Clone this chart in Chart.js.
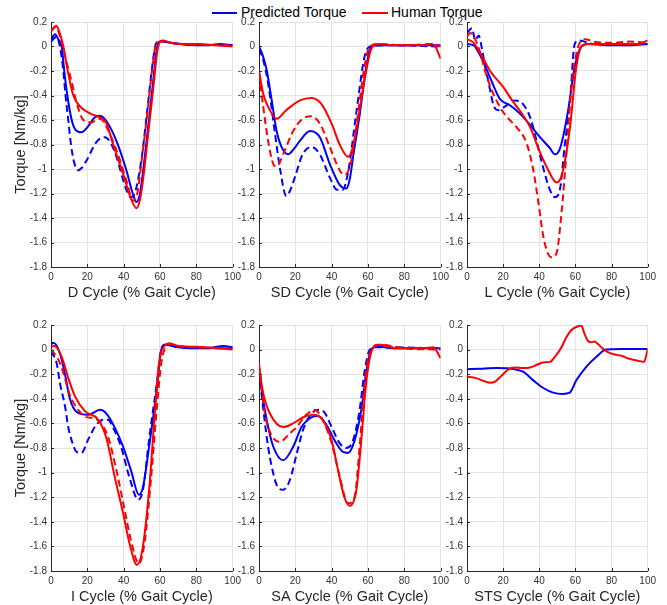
<!DOCTYPE html>
<html lang="en">
<head>
  <meta charset="UTF-8" />
  <title>Torque per cycle</title>
  <script src="https://cdn.jsdelivr.net/npm/chart.js"></script>
  <style>
    body { margin: 0; background: #fff; font-family: "Liberation Sans", Arial, sans-serif; }
    #wrap { position: relative; width: 667px; height: 605px; overflow: hidden; }
    canvas { position: absolute; }
    .leg-line { position: absolute; height: 2px; top: 12px; }
    .leg-text { position: absolute; top: 4px; font-size: 14px; line-height: 16px; color: #000; white-space: nowrap; }
  </style>
</head>
<body>
  <div id="wrap">
    <div class="leg-line" style="left:212px; width:25px; background:#0000ff"></div>
    <div class="leg-text" style="left:241px">Predicted Torque</div>
    <div class="leg-line" style="left:362px; width:26px; background:#ff0000"></div>
    <div class="leg-text" style="left:391px">Human Torque</div>

    <canvas id="cD"></canvas>
    <canvas id="cSD"></canvas>
    <canvas id="cL"></canvas>
    <canvas id="cI"></canvas>
    <canvas id="cSA"></canvas>
    <canvas id="cSTS"></canvas>
  </div>

  <script>
    // axis ticks
    const xTicks = [0, 20, 40, 60, 80, 100];
    const yTicks = [0.2, 0, -0.2, -0.4, -0.6, -0.8, -1, -1.2, -1.4, -1.6, -1.8];
    const yTickLabels = ['0.2', '0', '-0.2', '-0.4', '-0.6', '-0.8', '-1', '-1.2', '-1.4', '-1.6', '-1.8'];

    // [percent gait cycle, torque Nm/kg]
    // D cycle
    const dPredSolid = [[0,0.05],[2.2,0.10],[4,0.06],[5.9,0.0],[7.3,-0.2],[9,-0.4],[11.4,-0.6],[13.5,-0.68],[16.8,-0.70],[20,-0.66],[24,-0.58],[27,-0.565],[31,-0.62],[36,-0.77],[41.5,-1.01],[45,-1.20],[47,-1.27],[49,-1.2],[51,-0.98],[53,-0.72],[56,-0.32],[58.5,0.0],[61,0.045],[66,0.03],[75,0.015],[85,0.01],[93,0.02],[100,0.01]];
    const dPredDash = [[0,0.04],[3.1,0.08],[4.9,0.0],[6.8,-0.2],[8,-0.4],[9.5,-0.6],[11,-0.8],[12.8,-0.95],[15,-1.01],[17,-0.99],[19.6,-0.93],[25,-0.78],[29.6,-0.74],[33,-0.79],[36,-0.90],[41.5,-1.17],[44,-1.23],[46.5,-1.18],[50,-0.90],[53,-0.52],[56,-0.13],[58,0.03],[61,0.04],[70,0.02],[100,0.01]];
    const dHumSolid = [[0,0.13],[3,0.17],[5,0.1],[6.8,0.0],[9.2,-0.2],[12.3,-0.4],[16.8,-0.5],[22,-0.55],[27,-0.58],[30.6,-0.63],[34,-0.79],[39.7,-1.04],[44,-1.24],[47,-1.32],[49,-1.25],[51,-1.05],[53,-0.78],[56,-0.38],[59,0.0],[61.5,0.05],[66,0.03],[75,0.02],[82,0.02],[90,0.01],[100,0.0]];
    const dHumDash = [[0,0.12],[2.5,0.16],[5,0.08],[8.6,-0.13],[11.4,-0.29],[14.1,-0.46],[17.8,-0.60],[22,-0.62],[27,-0.59],[32,-0.70],[38,-0.93],[42,-1.12],[45,-1.26],[47.5,-1.2],[50,-0.92],[53,-0.55],[56,-0.15],[58,0.03],[61,0.04],[70,0.02],[100,0.01]];

    // SD cycle
    const sdPredSolid = [[0,0.0],[2,-0.07],[4.2,-0.19],[7,-0.44],[9.7,-0.69],[12.4,-0.82],[16,-0.88],[19,-0.84],[22.5,-0.77],[28,-0.69],[33.5,-0.74],[39,-0.96],[44.4,-1.13],[48,-1.16],[50,-1.08],[52,-0.88],[55.4,-0.56],[59,-0.17],[61.8,0.0],[66,0.01],[80,0.01],[100,0.01]];
    const sdPredDash = [[0,-0.02],[2.5,-0.12],[5,-0.30],[8.8,-0.71],[11.5,-0.99],[15,-1.22],[17,-1.18],[19.7,-1.07],[24,-0.88],[29,-0.82],[33.5,-0.88],[39,-1.07],[43,-1.17],[46,-1.17],[49,-1.03],[53.5,-0.55],[58,-0.09],[61,0.0],[70,0.01],[100,0.0]];
    const sdHumSolid = [[0,-0.20],[2.4,-0.39],[6,-0.52],[9.7,-0.59],[15,-0.52],[22.5,-0.44],[29,-0.42],[34.4,-0.47],[40,-0.63],[44.4,-0.80],[49,-0.90],[51.7,-0.82],[55.4,-0.52],[59,-0.20],[61.8,-0.02],[66,0.02],[75,0.01],[90,0.01],[95,0.02],[97,0.0],[100,-0.10]];
    const sdHumDash = [[0,-0.22],[2.4,-0.50],[5,-0.77],[7.9,-0.96],[9.7,-0.98],[13.3,-0.88],[18.8,-0.69],[24,-0.59],[29,-0.57],[33.5,-0.63],[39,-0.82],[44.4,-1.01],[47,-1.05],[49,-1.02],[51,-0.92],[54.5,-0.55],[58,-0.17],[61,0.0],[66,0.02],[80,0.01],[95,0.02],[100,0.0]];

    // L cycle
    const lPredSolid = [[0,0.02],[3.7,0.01],[6.5,-0.05],[9.2,-0.13],[13.8,-0.29],[18.3,-0.43],[23.8,-0.48],[29.4,-0.55],[34.9,-0.64],[40.4,-0.74],[45.9,-0.83],[48.6,-0.88],[51,-0.85],[53,-0.75],[56,-0.52],[59.6,-0.17],[63.3,0.0],[67,0.02],[80,0.01],[90,0.01],[100,0.02]];
    const lPredDash = [[0,0.11],[2.7,0.15],[4.6,0.05],[6.4,0.09],[8.3,-0.02],[10,-0.16],[11.9,-0.29],[14.7,-0.48],[17.3,-0.52],[20,-0.50],[22,-0.48],[26.6,-0.44],[31,-0.47],[35,-0.58],[38.5,-0.77],[42,-0.98],[45.9,-1.17],[48.6,-1.23],[51.4,-1.17],[54,-0.82],[57,-0.44],[59.6,0.02],[62,0.05],[65,0.04],[70,0.02],[100,0.02]];
    const lHumSolid = [[0,0.06],[3.7,0.03],[8.3,-0.08],[12.8,-0.2],[20,-0.33],[25,-0.44],[30,-0.54],[35,-0.66],[40,-0.85],[45,-1.01],[49.5,-1.11],[52,-1.07],[54,-0.95],[57,-0.66],[60.5,-0.17],[63.3,0.0],[67,0.02],[80,0.02],[95,0.02],[100,0.05]];
    const lHumDash = [[0,0.08],[1.8,0.11],[4.5,0.06],[7.3,-0.05],[10,-0.2],[13.8,-0.36],[19.3,-0.52],[23,-0.59],[27.5,-0.66],[33,-0.79],[36.7,-1.01],[39.4,-1.26],[42,-1.53],[44.5,-1.68],[46.8,-1.72],[49.5,-1.69],[52.3,-1.36],[55,-0.88],[57.8,-0.33],[60.5,-0.06],[63.3,0.05],[65.5,0.06],[70,0.04],[80,0.03],[90,0.04],[100,0.03]];

    // I cycle
    const iPredSolid = [[0,0.04],[1.3,0.056],[4.9,-0.03],[7.7,-0.2],[10.4,-0.40],[14,-0.505],[20.5,-0.53],[27,-0.49],[30.5,-0.52],[35,-0.63],[39.7,-0.79],[44,-0.98],[48.4,-1.18],[50.6,-1.12],[54,-0.79],[58,-0.35],[60.7,0.0],[62.5,0.04],[70,0.02],[85,0.01],[95,0.03],[100,0.02]];
    const iPredDash = [[0,-0.015],[3.1,-0.11],[4.9,-0.27],[7.7,-0.46],[9.5,-0.63],[11.4,-0.74],[14,-0.83],[16.8,-0.84],[20.5,-0.73],[25,-0.61],[28.7,-0.57],[31.4,-0.57],[34,-0.63],[38.6,-0.79],[43,-1.03],[48,-1.22],[50.6,-1.14],[54,-0.73],[58,-0.30],[60.7,0.0],[63,0.04],[70,0.02],[100,0.01]];
    const iHumSolid = [[0,0.025],[2,0.03],[5.9,-0.06],[9.5,-0.23],[13.2,-0.38],[18.7,-0.5],[26,-0.57],[30.5,-0.72],[35,-1.03],[39.7,-1.33],[43.3,-1.58],[47.3,-1.75],[50.6,-1.60],[54.3,-1.09],[57,-0.54],[59.8,-0.08],[62.5,0.03],[65,0.05],[70,0.03],[85,0.02],[100,0.0]];
    const iHumDash = [[0,0.0],[4,-0.08],[6.8,-0.19],[10.4,-0.37],[15,-0.49],[18.7,-0.545],[24,-0.56],[27,-0.59],[31.4,-0.71],[36,-0.98],[40.5,-1.30],[44,-1.55],[48.4,-1.74],[51.5,-1.57],[55,-1.06],[58,-0.52],[60.7,-0.11],[63.4,0.03],[65,0.05],[70,0.03],[100,0.01]];

    // SA cycle
    const saPredSolid = [[0,-0.14],[1.5,-0.33],[4.2,-0.57],[7.9,-0.79],[13.3,-0.90],[18.8,-0.79],[23.4,-0.63],[29,-0.55],[32.5,-0.54],[37,-0.61],[41.7,-0.74],[46,-0.83],[49,-0.84],[52.6,-0.74],[56.3,-0.49],[59,-0.19],[61.8,0.0],[65,0.025],[75,0.01],[100,0.01]];
    const saPredDash = [[0,-0.17],[2.4,-0.49],[5,-0.79],[7,-0.95],[9.7,-1.10],[13.3,-1.14],[17,-1.06],[20.7,-0.85],[24.3,-0.65],[29,-0.52],[32.5,-0.49],[36,-0.51],[40,-0.63],[44.4,-0.76],[48,-0.80],[51.7,-0.74],[55.4,-0.49],[58,-0.19],[61,0.0],[65,0.02],[100,0.01]];
    const saHumSolid = [[0,-0.14],[2.4,-0.36],[6,-0.52],[13.3,-0.63],[18.8,-0.60],[24.3,-0.55],[29.8,-0.53],[35,-0.57],[40,-0.74],[43.5,-0.98],[47,-1.20],[50,-1.27],[53.6,-1.14],[56.3,-0.74],[59,-0.27],[61.8,-0.02],[65.4,0.04],[67,0.04],[75,0.01],[90,0.01],[96,0.02],[100,-0.07]];
    const saHumDash = [[0,-0.11],[2.4,-0.44],[5,-0.63],[11.5,-0.75],[17,-0.68],[20.7,-0.63],[26,-0.53],[30.7,-0.49],[35,-0.57],[40,-0.76],[44.4,-1.03],[49,-1.25],[52.6,-1.20],[55.4,-0.79],[58,-0.30],[61,-0.03],[67,0.04],[80,0.01],[100,0.0]];

    // STS cycle (solid lines only)
    const stsPred = [[0,-0.16],[7.3,-0.155],[16.5,-0.15],[25.7,-0.157],[31,-0.18],[36.7,-0.25],[42,-0.31],[47.7,-0.35],[53,-0.36],[56.9,-0.35],[60.5,-0.25],[66,-0.14],[71.5,-0.06],[77,0.0],[85,0.005],[100,0.005]];
    const stsHum = [[0,-0.22],[4.6,-0.23],[9.2,-0.255],[12.8,-0.27],[15.6,-0.26],[19.3,-0.21],[22.9,-0.16],[26.6,-0.145],[31,-0.15],[34.9,-0.145],[38.5,-0.125],[42,-0.105],[45.9,-0.10],[48.6,-0.06],[52.3,0.02],[55,0.10],[57.8,0.16],[61.5,0.19],[63.3,0.195],[65,0.13],[67,0.07],[68.8,0.06],[70.6,0.065],[72.5,0.045],[75,0.01],[78,-0.02],[81.7,-0.04],[85.3,-0.05],[89.9,-0.075],[94.5,-0.09],[98,-0.10],[100,0.0]];

    const BLUE = '#0000ff', RED = '#ff0000';
    const FONT = '"Liberation Sans", Arial, sans-serif';

    // MATLAB-style inward ticks on left and bottom axes
    const inwardTicks = {
      id: 'inwardTicks',
      afterDatasetsDraw(chart) {
        const { ctx, chartArea: a, scales: { x, y } } = chart;
        ctx.save();
        ctx.strokeStyle = '#262626';
        ctx.lineWidth = 1;
        ctx.beginPath();
        x.ticks.forEach(t => {
          const px = Math.round(x.getPixelForValue(t.value)) + 0.5;
          ctx.moveTo(px, a.bottom); ctx.lineTo(px, a.bottom - 3);
        });
        y.ticks.forEach(t => {
          const py = Math.round(y.getPixelForValue(t.value)) + 0.5;
          ctx.moveTo(a.left, py); ctx.lineTo(a.left + 3, py);
        });
        ctx.stroke();
        ctx.restore();
      }
    };

    function line(pts, color, dashed) {
      return {
        data: pts.map(p => ({ x: p[0], y: p[1] })),
        borderColor: color,
        borderWidth: 2,
        borderDash: dashed ? [7, 4] : [],
        pointRadius: 0,
        fill: false,
        cubicInterpolationMode: 'monotone'
      };
    }

    function panel(id, pos, title, showYTitle, datasets) {
      const yW = showYTitle ? 51 : 30, xH = 35, padTop = 10, padR = 12;
      const cv = document.getElementById(id);
      cv.width = yW + pos.w + padR;
      cv.height = padTop + pos.h + xH;
      cv.style.left = (pos.l - yW) + 'px';
      cv.style.top = (pos.t - padTop) + 'px';
      new Chart(cv, {
        type: 'line',
        data: { datasets },
        plugins: [inwardTicks],
        options: {
          responsive: false,
          animation: false,
          layout: { padding: { top: padTop, right: padR, left: 0, bottom: 0 } },
          plugins: { legend: { display: false }, tooltip: { enabled: false } },
          scales: {
            x: {
              type: 'linear', min: 0, max: 100,
              afterBuildTicks: s => { s.ticks = xTicks.map(v => ({ value: v })); },
              afterFit: s => { s.height = xH; },
              grid: { color: '#e3e3e3', drawTicks: false },
              border: { color: '#262626', width: 1 },
              ticks: { padding: 4, color: '#333', font: { family: FONT, size: 10 }, maxRotation: 0 },
              title: { display: true, text: title, color: '#262626', padding: 0, font: { family: FONT, size: 14.5 } }
            },
            y: {
              type: 'linear', min: -1.8, max: 0.2,
              afterBuildTicks: s => { s.ticks = yTicks.map(v => ({ value: v })); },
              afterFit: s => { s.width = yW; },
              grid: { color: '#e3e3e3', drawTicks: false },
              border: { color: '#262626', width: 1 },
              ticks: {
                padding: 4, color: '#333', font: { family: FONT, size: 10 },
                callback: v => yTickLabels[yTicks.findIndex(t => Math.abs(t - v) < 1e-6)]
              },
              title: { display: showYTitle, text: 'Torque [Nm/kg]', color: '#262626', padding: { top: 12, bottom: 0 }, font: { family: FONT, size: 14.5 } }
            }
          }
        }
      });
    }

    const top1 = { t: 22, h: 245 }, top2 = { t: 325, h: 246 };
    const cols = [{ l: 51, w: 182 }, { l: 259, w: 182 }, { l: 467, w: 181 }];

    panel('cD', { ...cols[0], ...top1 }, 'D Cycle (% Gait Cycle)', true,
      [line(dHumSolid, RED), line(dHumDash, RED, true), line(dPredSolid, BLUE), line(dPredDash, BLUE, true)]);
    panel('cSD', { ...cols[1], ...top1 }, 'SD Cycle (% Gait Cycle)', false,
      [line(sdHumSolid, RED), line(sdHumDash, RED, true), line(sdPredSolid, BLUE), line(sdPredDash, BLUE, true)]);
    panel('cL', { ...cols[2], ...top1 }, 'L Cycle (% Gait Cycle)', false,
      [line(lHumSolid, RED), line(lHumDash, RED, true), line(lPredSolid, BLUE), line(lPredDash, BLUE, true)]);
    panel('cI', { ...cols[0], ...top2 }, 'I Cycle (% Gait Cycle)', true,
      [line(iHumSolid, RED), line(iHumDash, RED, true), line(iPredSolid, BLUE), line(iPredDash, BLUE, true)]);
    panel('cSA', { ...cols[1], ...top2 }, 'SA Cycle (% Gait Cycle)', false,
      [line(saHumSolid, RED), line(saHumDash, RED, true), line(saPredSolid, BLUE), line(saPredDash, BLUE, true)]);
    panel('cSTS', { ...cols[2], ...top2 }, 'STS Cycle (% Gait Cycle)', false,
      [line(stsHum, RED), line(stsPred, BLUE)]);
  </script>
</body>
</html>
